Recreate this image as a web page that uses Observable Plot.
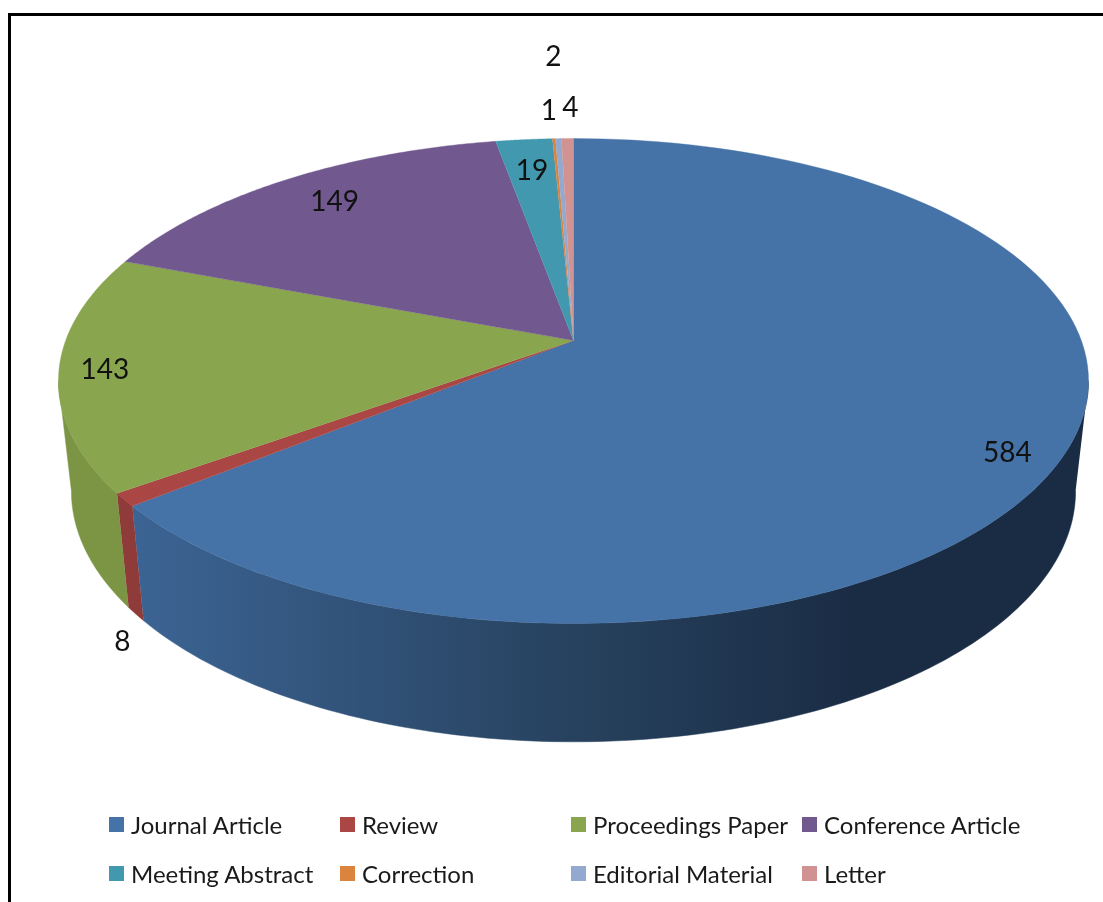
<!DOCTYPE html>
<html>
<head>
<meta charset="utf-8">
<script src="https://cdn.jsdelivr.net/npm/d3@7"></script>
<script src="https://cdn.jsdelivr.net/npm/@observablehq/plot@0.6"></script>
<style>
  html, body { margin: 0; padding: 0; background: #fff; overflow: hidden; }
  #page { position: relative; width: 1103px; height: 902px; overflow: hidden; font-family: Lato, sans-serif; color: #1a1a1a; filter: blur(0.35px); }
  #frame { position: absolute; left: 8px; top: 13px; right: -10px; bottom: -10px; border-left: 3px solid #000; border-top: 3px solid #000; pointer-events: none; }
  #chart svg { display: block; }
  #legend { display: grid; grid-template-columns: repeat(4, 231px); grid-auto-rows: 49px; padding-left: 109px; height: 102px; box-sizing: border-box; }
  .item { display: flex; align-items: center; font-size: 24px; white-space: nowrap; }
  .swatch { width: 15px; height: 15px; margin-right: 7px; flex: none; }
</style>
</head>
<body>
<div id="page">
  <div id="chart"></div>
  <div id="legend"></div>
  <div id="frame"></div>
</div>
<script>
const categories = ["Journal Article", "Review", "Proceedings Paper", "Conference Article", "Meeting Abstract", "Correction", "Editorial Material", "Letter"];
const counts = [584, 8, 143, 149, 19, 1, 2, 4];
const colors = ["#4572A7", "#AA4643", "#89A54E", "#71588F", "#4198AF", "#DB843D", "#93A9CF", "#D19392"];
const wallColors = ["url(#wallBlue)", "#8f3b39", "#7c9545", "#71588F", "#4198AF", "#DB843D", "#93A9CF", "#D19392"];
const labelNudgeX = [-60, -2, 46, 49, 8, -5, -5, 3];
const labelNudgeY = [3, 142, -2, 22, 31, -28, -82, -31];

// Perspective projection of the pie's upper and lower discs
const persp = 0.167;
const centerX = 573;
const upper = {cy: 340, rx: 507.8, ry: 235.7};
const lower = {cy: 449, rx: 495, ry: 243.5};
const project = (deg, disc, r = 1) => {
  const t = deg * Math.PI / 180, u = r * Math.sin(t), v = r * Math.cos(t), d = 1 + persp * v;
  return {x: centerX + disc.rx * u / d, y: disc.cy - disc.ry * v / d};
};

const total = d3.sum(counts);
const cum = d3.cumsum(counts);
const slices = categories.map((name, i) => ({
  name, i, value: counts[i],
  a0: (i ? cum[i - 1] : 0) / total * 360,
  a1: cum[i] / total * 360
}));
const arc = (a0, a1) => d3.range(0, 121).map(k => a0 + (a1 - a0) * k / 120);

const tops = slices.flatMap(s => [
  {name: s.name, ...project(0, upper, 0)},
  ...arc(s.a0, s.a1).map(a => ({name: s.name, ...project(a, upper)}))
]);

// Visible outer wall runs between the two tangent angles of the rim
const wallStart = 99.6, wallEnd = 260.4;
const walls = slices
  .map(s => ({...s, b0: Math.max(s.a0, wallStart), b1: Math.min(s.a1, wallEnd)}))
  .filter(s => s.b1 > s.b0)
  .map(s => ({
    s,
    pts: [
      ...arc(s.b0, s.b1).map(a => project(a, upper)),
      ...arc(s.b0, s.b1).reverse().map(a => project(a, lower))
    ]
  }));

const labels = slices.map(s => {
  const p = project((s.a0 + s.a1) / 2, upper);
  return {text: String(s.value), x: p.x + labelNudgeX[s.i], y: p.y + labelNudgeY[s.i]};
});

const defs = () => {
  const d = d3.create("svg:defs");
  const g = d.append("linearGradient").attr("id", "wallBlue")
    .attr("gradientUnits", "userSpaceOnUse")
    .attr("x1", project(slices[0].a1, upper).x).attr("x2", 860).attr("y1", 0).attr("y2", 0);
  g.append("stop").attr("offset", "0").attr("stop-color", "#3c6494");
  g.append("stop").attr("offset", "0.6").attr("stop-color", "#27425f");
  g.append("stop").attr("offset", "1").attr("stop-color", "#1a2c44");
  return d.node();
};

const plot = Plot.plot({
  width: 1103,
  height: 800,
  margin: 0,
  x: {domain: [0, 1103], range: [0, 1103], axis: null},
  y: {domain: [0, 800], range: [0, 800], axis: null},
  marks: [
    defs,
    ...walls.map(w => Plot.line(w.pts, {x: "x", y: "y", fill: wallColors[w.s.i], stroke: wallColors[w.s.i], strokeWidth: 0.5, curve: "linear"})),
    ...slices.map(s => Plot.line(tops.filter(d => d.name === s.name), {x: "x", y: "y", fill: colors[s.i], stroke: colors[s.i], strokeWidth: 0.4, curve: "linear"})),
    Plot.text(labels, {x: "x", y: "y", text: "text", fontSize: 28, fontFamily: "Lato, sans-serif", fill: "#111"})
  ]
});
document.getElementById("chart").append(plot);

const legend = d3.select("#legend");
const items = legend.selectAll(".item").data(categories).join("div").attr("class", "item");
items.append("span").attr("class", "swatch").style("background", (d, i) => colors[i]);
items.append("span").text(d => d);
</script>
</body>
</html>
